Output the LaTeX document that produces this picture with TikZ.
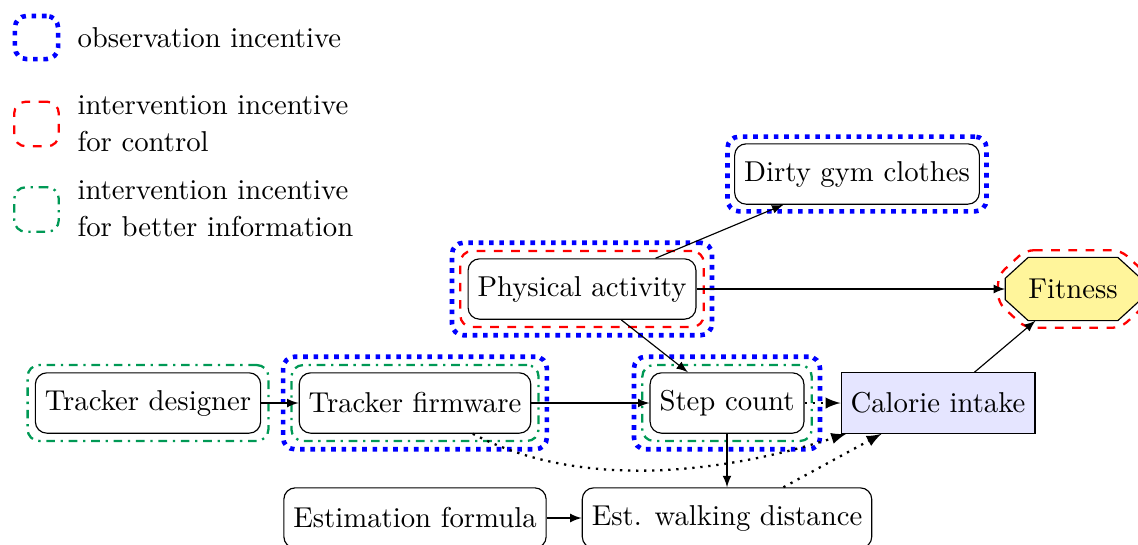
\documentclass[tikz,border=0pt]{standalone}
\usetikzlibrary{fit,backgrounds,arrows}
\definecolor{incgreen}{RGB}{0,153,85}
\definecolor{fityellow}{RGB}{255,245,155}
\definecolor{calblue}{RGB}{229,229,255}
\begin{document}
\begin{tikzpicture}[x=0.348pt,y=-0.348pt,
  var/.style={draw, rounded corners=4pt, minimum height=21pt, inner xsep=3.3pt, inner ysep=2pt},
  edge/.style={-latex},
  dedge/.style={-latex, line width=0.8pt, dotted},
  obsw/.style={draw=blue, line width=1.6pt, dotted, rounded corners=4pt},
  ctlw/.style={draw=red, line width=0.8pt, dashed, rounded corners=4pt},
  infw/.style={draw=incgreen, line width=0.8pt, dashdotted, rounded corners=4pt},
]
\useasboundingbox (0,0) rectangle (1138,544);

% legend
\node[obsw, minimum size=15pt, inner sep=0] (lobs) at (36.5,37.5) {};
\node[ctlw, minimum size=15.5pt, inner sep=0] (lctl) at (36.5,124) {};
\node[infw, minimum size=15.5pt, inner sep=0] (linf) at (36.5,209.5) {};
\node[anchor=west, inner sep=0] (tobs) at (77,38) {observation incentive};
\node[anchor=west, inner sep=0, align=left] (tctl) at (77,124) {intervention incentive\\[0.9pt]for control};
\node[anchor=west, inner sep=0, align=left] (tinf) at (77,209) {intervention incentive\\[0.9pt]for better information};

% nodes
\node[var] (dgc) at (857,174) {Dirty gym clothes};
\node[var] (pa) at (582,289) {Physical activity};
\node[minimum width=46.8pt, minimum height=21.6pt, inner sep=0] (fitn) at (1073,289) {Fitness};
\node[var] (td) at (148,403) {Tracker designer};
\node[var] (tf) at (415,403) {Tracker firmware};
\node[var] (sc) at (727,403) {Step count};
\node[draw, fill=calblue, minimum height=21pt, inner xsep=3.3pt] (ci) at (938,403) {Calorie intake};
\node[var] (ef) at (415,518) {Estimation formula};
\node[var] (ewd) at (727,518) {Est. walking distance};

\begin{pgfonlayer}{background}
\draw[fill=fityellow] ([xshift=8pt]fitn.north west) -- ([xshift=-8pt]fitn.north east)
  -- ([yshift=-7.3pt]fitn.north east) -- ([yshift=7.3pt]fitn.south east)
  -- ([xshift=-8pt]fitn.south east) -- ([xshift=8pt]fitn.south west)
  -- ([yshift=7.3pt]fitn.south west) -- ([yshift=-7.3pt]fitn.north west) -- cycle;
\end{pgfonlayer}

% incentive outlines
\node[obsw, fit=(dgc), inner sep=2.3pt] (dgcw) {};
\node[ctlw, fit=(pa), inner sep=2.5pt] (paw1) {};
\node[obsw, fit=(paw1), inner sep=2.5pt] (paw2) {};
\node[infw, fit=(td), inner sep=2.5pt] (tdw) {};
\node[infw, fit=(tf), inner sep=2.5pt] (tfw1) {};
\node[obsw, fit=(tfw1), inner sep=2.5pt] (tfw2) {};
\node[infw, fit=(sc), inner sep=2.5pt] (scw1) {};
\node[obsw, fit=(scw1), inner sep=2.5pt] (scw2) {};
\draw[ctlw, rounded corners=3pt] ([shift={(7pt,2.5pt)}]fitn.north west) -- ([shift={(-7pt,2.5pt)}]fitn.north east)
  -- ([shift={(2.5pt,-6.3pt)}]fitn.north east) -- ([shift={(2.5pt,6.3pt)}]fitn.south east)
  -- ([shift={(-7pt,-2.5pt)}]fitn.south east) -- ([shift={(7pt,-2.5pt)}]fitn.south west)
  -- ([shift={(-2.5pt,6.3pt)}]fitn.south west) -- ([shift={(-2.5pt,-6.3pt)}]fitn.north west) -- cycle;

% edges
\draw[edge] (pa) -- (dgc);
\draw[edge] (pa) -- (fitn);
\draw[edge] (pa) -- (sc);
\draw[edge] (td) -- (tf);
\draw[edge] (tf) -- (sc);
\draw[dedge] (sc) -- (ci);
\draw[edge] (ci) -- (fitn);
\draw[edge] (sc) -- (ewd);
\draw[edge] (ef) -- (ewd);
\draw[dedge] (tf) to[out=-28, in=198, looseness=0.85] ([xshift=2pt]ci.south west);
\draw[dedge] (ewd) -- (ci);
\end{tikzpicture}
\end{document}
